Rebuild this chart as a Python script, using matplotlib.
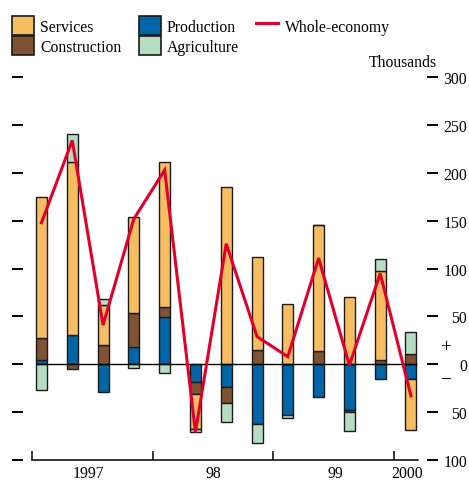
import numpy as np
import matplotlib
matplotlib.use("Agg")
import matplotlib.pyplot as plt
import matplotlib.patches as mpatches
from matplotlib.lines import Line2D

# quarterly changes, thousands (1997 Q1 .. 2000 Q1)
production   = [4, 31, -29, 18, 49, -18, -24, -62, -53, -34, -48, -15, -15]
construction = [23, -5, 20, 36, 11, -13, -16, 15, 0, 14, -1.5, 5, 11]
services     = [148, 180, 42, 100, 151, -37, 185, 97, 63, 132, 70, 93, -54]
agriculture  = [-27, 30, 6, -4, -9, -3, -20, -20, -3, 0, -20, 12, 23]
whole_economy = [148, 234, 41, 152, 203, -71, 126, 29, 8, 111, -1, 95, -33]

year_labels = ["1997", "98", "99", "2000"]
year_label_pos = [1.51, 5.57, 9.56, 11.87]
year_tick_pos = [-0.31, 3.61, 7.53, 11.44]

y_ticks = [300, 250, 200, 150, 100, 50, 0, -50, -100]
y_tick_labels = ["300", "250", "200", "150", "100", "50", "0", "50", "100"]

SERVICES_CLR = "#F6BE60"
CONSTR_CLR   = "#7E5232"
PROD_CLR     = "#0066A8"
AGRI_CLR     = "#B5DDC2"
LINE_CLR     = "#E0002B"
EDGE_CLR     = "#1a1a1a"

plt.rcParams["font.family"] = ["Liberation Serif", "DejaVu Serif"]
FS = 11.3

W, H = 469, 481
fig = plt.figure(figsize=(W / 100, H / 100), dpi=100)
fig.patch.set_facecolor("white")

ax = fig.add_axes([23 / W, 20 / H, (427 - 23) / W, (461 - 78.3) / H])
ax.set_xlim(-0.6, 12.52)
ax.set_ylim(-100, 300)

x = np.arange(len(services))
series = [
    (production, PROD_CLR),
    (construction, CONSTR_CLR),
    (services, SERVICES_CLR),
    (agriculture, AGRI_CLR),
]
pos_base = np.zeros(len(x))
neg_base = np.zeros(len(x))
for vals, clr in series:
    v = np.array(vals, dtype=float)
    bottom = np.where(v >= 0, pos_base, neg_base)
    ax.bar(x, v, 0.357, bottom=bottom, color=clr, edgecolor=EDGE_CLR,
           linewidth=1.0, zorder=3)
    pos_base = pos_base + np.clip(v, 0, None)
    neg_base = neg_base + np.clip(v, None, 0)

ax.hlines(0, -0.18, 12.18, color="black", linewidth=1.0, zorder=4)
ax.plot(x, whole_economy, color=LINE_CLR, linewidth=2.2, zorder=5,
        solid_joinstyle="miter")

# axes styling
for side in ["left", "right", "top"]:
    ax.spines[side].set_visible(False)
ax.spines["bottom"].set_bounds(year_tick_pos[0], 12.22)
ax.spines["bottom"].set_linewidth(1.1)

ax.set_yticks(y_ticks)
ax.set_yticklabels(y_tick_labels)
ax.tick_params(axis="y", left=True, right=True, labelleft=False,
               labelright=True, direction="out", length=7.9, width=1.4,
               pad=21, labelsize=FS)
for lbl in ax.get_yticklabels():
    lbl.set_horizontalalignment("right")

ax.set_xticks(year_tick_pos)
ax.set_xticklabels([])
ax.tick_params(axis="x", which="major", direction="in", length=6.5, width=1.1)
ax.set_xticks(year_label_pos, minor=True)
ax.set_xticklabels(year_labels, minor=True)
ax.tick_params(axis="x", which="minor", length=0, pad=3.5, labelsize=FS)

# legend
handles = [
    mpatches.Patch(facecolor=SERVICES_CLR, edgecolor=EDGE_CLR, linewidth=1.2, label="Services"),
    mpatches.Patch(facecolor=CONSTR_CLR, edgecolor=EDGE_CLR, linewidth=1.2, label="Construction"),
    mpatches.Patch(facecolor=PROD_CLR, edgecolor=EDGE_CLR, linewidth=1.2, label="Production"),
    mpatches.Patch(facecolor=AGRI_CLR, edgecolor=EDGE_CLR, linewidth=1.2, label="Agriculture"),
    Line2D([], [], color=LINE_CLR, linewidth=2.2, label="Whole-economy"),
]
fig.legend(handles=handles, ncol=3, loc="upper left",
           bbox_to_anchor=(12 / W, 1 - 17 / H), frameon=False, fontsize=FS,
           borderpad=0, borderaxespad=0, labelspacing=0.05, handleheight=1.5,
           handlelength=1.4, handletextpad=0.4, columnspacing=1.1)

fig.text(437 / W, 1 - 63 / H, "Thousands", ha="right", va="center", fontsize=FS)
fig.text(446 / W, 1 - 348 / H, "+", ha="center", va="center", fontsize=14)
fig.text(446 / W, 1 - 381 / H, "\u2212", ha="center", va="center", fontsize=14)

fig.savefig("out.png", dpi=100, facecolor=fig.get_facecolor())
